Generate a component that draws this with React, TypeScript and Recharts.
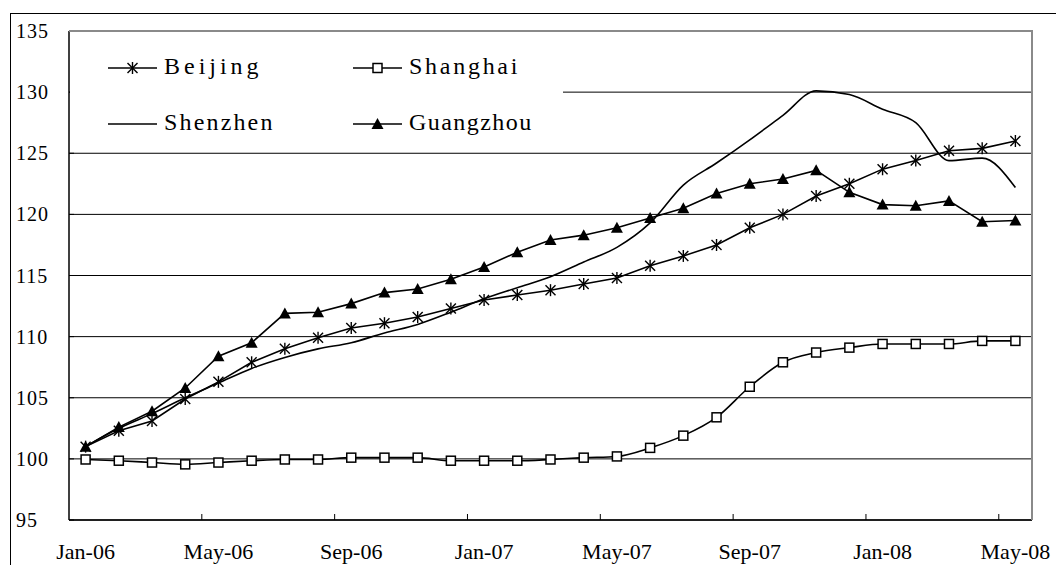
import React from "react";
import { LineChart, Line, XAxis, YAxis, CartesianGrid, Legend } from "recharts";

const months = [
  "Jan-06", "Feb-06", "Mar-06", "Apr-06", "May-06", "Jun-06", "Jul-06", "Aug-06", "Sep-06", "Oct-06", "Nov-06", "Dec-06",
  "Jan-07", "Feb-07", "Mar-07", "Apr-07", "May-07", "Jun-07", "Jul-07", "Aug-07", "Sep-07", "Oct-07", "Nov-07", "Dec-07",
  "Jan-08", "Feb-08", "Mar-08", "Apr-08", "May-08",
];

const beijing = [
  101.0, 102.3, 103.1, 104.9, 106.3, 107.9, 109.0, 109.9, 110.7, 111.1, 111.6, 112.3,
  113.0, 113.4, 113.8, 114.3, 114.8, 115.8, 116.6, 117.5, 118.9, 120.0, 121.5, 122.5,
  123.7, 124.4, 125.2, 125.4, 126.0,
];

const shanghai = [
  99.95, 99.85, 99.7, 99.55, 99.7, 99.85, 99.95, 99.95, 100.1, 100.1, 100.1, 99.85,
  99.85, 99.85, 99.95, 100.1, 100.2, 100.9, 101.9, 103.4, 105.9, 107.9, 108.7, 109.1,
  109.4, 109.4, 109.4, 109.65, 109.65,
];

const shenzhen = [
  101.0, 102.5, 103.7, 105.0, 106.2, 107.4, 108.3, 109.0, 109.5, 110.3, 111.0, 112.0,
  113.1, 114.0, 114.9, 116.1, 117.3, 119.3, 122.4, 124.2, 126.1, 128.1, 130.1, 129.8,
  128.6, 127.5, 124.4, 124.6, 122.2,
];

const guangzhou = [
  101.0, 102.6, 103.9, 105.8, 108.4, 109.5, 111.9, 112.0, 112.7, 113.6, 113.9, 114.7,
  115.7, 116.9, 117.9, 118.3, 118.9, 119.7, 120.5, 121.7, 122.5, 122.9, 123.6, 121.8,
  120.8, 120.7, 121.1, 119.4, 119.5,
];

const yTicks = [95, 100, 105, 110, 115, 120, 125, 130, 135];

const data = months.map((month, i) => ({
  month,
  Beijing: beijing[i],
  Shanghai: shanghai[i],
  Shenzhen: shenzhen[i],
  Guangzhou: guangzhou[i],
}));

const W = 1056;
const H = 565;
const PLOT_LEFT = 69;
const PLOT_TOP = 31;
const PLOT_RIGHT = 1032;
const PLOT_BOTTOM = 520;
const BAND = (PLOT_RIGHT - PLOT_LEFT) / months.length;
const INK = "#000";
const LINE_W = 1.6;
const SERIF = "'Liberation Serif', 'Times New Roman', serif";

type MarkerKind = "star" | "square" | "none" | "triangle";

function Marker({ kind, cx, cy }: { kind: MarkerKind; cx: number; cy: number }) {
  if (kind === "star") {
    return (
      <g stroke={INK} strokeWidth={1.4}>
        <line x1={cx} y1={cy - 6} x2={cx} y2={cy + 6} />
        <line x1={cx - 5} y1={cy - 5} x2={cx + 5} y2={cy + 5} />
        <line x1={cx - 5} y1={cy + 5} x2={cx + 5} y2={cy - 5} />
      </g>
    );
  }
  if (kind === "square") {
    return <rect x={cx - 4.5} y={cy - 4.5} width={9} height={9} fill="#fff" stroke={INK} strokeWidth={1.5} />;
  }
  if (kind === "triangle") {
    return <polygon points={`${cx},${cy - 6} ${cx - 6},${cy + 5} ${cx + 6},${cy + 5}`} fill={INK} />;
  }
  return null;
}

const series: { key: string; kind: MarkerKind; smooth: boolean }[] = [
  { key: "Beijing", kind: "star", smooth: false },
  { key: "Shanghai", kind: "square", smooth: true },
  { key: "Shenzhen", kind: "none", smooth: true },
  { key: "Guangzhou", kind: "triangle", smooth: false },
];

const dotFor = (kind: MarkerKind, name: string) => (props: any) => {
  const { cx, cy, index } = props;
  if (cx == null || cy == null) return <g key={`${name}-${index}`} />;
  return (
    <g key={`${name}-${index}`}>
      <Marker kind={kind} cx={cx} cy={cy} />
    </g>
  );
};

function XTick(props: any) {
  const { x, payload } = props;
  const first = payload.value === months[0];
  return (
    <g>
      {!first && (
        <line x1={x - BAND / 2} y1={PLOT_BOTTOM} x2={x - BAND / 2} y2={PLOT_BOTTOM - 6} stroke={INK} strokeWidth={1} />
      )}
      <text x={x} y={559} textAnchor="middle" fontFamily={SERIF} fontSize={22} fill={INK}>
        {payload.value}
      </text>
    </g>
  );
}

function YTick(props: any) {
  const { y, payload } = props;
  return (
    <g>
      <line x1={PLOT_LEFT} y1={y} x2={PLOT_LEFT + 5} y2={y} stroke={INK} strokeWidth={1} />
      <text x={16} y={y + 7} textAnchor="start" fontFamily={SERIF} fontSize={20} letterSpacing={1} fill={INK}>
        {payload.value}
      </text>
    </g>
  );
}

// legend grid: two columns, two rows
const legendCols = [38, 283];
const legendRows = [36, 92];
const CHAR_W = 13.8;

function LegendBox() {
  return (
    <svg width={493} height={113} style={{ display: "block" }}>
      {series.map((s, i) => {
        const lx = legendCols[i % 2];
        const ly = legendRows[Math.floor(i / 2)];
        return (
          <g key={s.key}>
            <line x1={lx} y1={ly} x2={lx + 49} y2={ly} stroke={INK} strokeWidth={LINE_W} />
            <Marker kind={s.kind} cx={lx + 24.5} cy={ly} />
            <text
              x={lx + 56}
              y={ly + 6}
              fontFamily={SERIF}
              fontSize={24}
              textLength={s.key.length * CHAR_W - 2}
              lengthAdjust="spacing"
              fill={INK}
            >
              {s.key}
            </text>
          </g>
        );
      })}
    </svg>
  );
}

export default function App() {
  return (
    <div
      style={{
        position: "absolute",
        left: 0,
        top: 0,
        width: W,
        height: H,
        overflow: "hidden",
        background: "#fff",
      }}
    >
      <div
        style={{
          position: "absolute",
          left: 10,
          top: 13,
          width: 1100,
          height: 600,
          border: "1.5px solid #000",
        }}
      />
      <div style={{ position: "absolute", left: 0, top: 0 }}>
        <LineChart
          width={W}
          height={H}
          data={data}
          margin={{ top: PLOT_TOP, right: W - PLOT_RIGHT, bottom: 0, left: 0 }}
        >
          <CartesianGrid vertical={false} stroke={INK} strokeWidth={1} />
          <XAxis
            dataKey="month"
            height={H - PLOT_BOTTOM}
            padding={{ left: BAND / 2, right: BAND / 2 }}
            interval={3}
            tickLine={false}
            axisLine={{ stroke: INK, strokeWidth: 1.5 }}
            tick={<XTick />}
          />
          <YAxis
            width={PLOT_LEFT}
            domain={[95, 135]}
            ticks={yTicks}
            interval={0}
            allowDataOverflow
            tickLine={false}
            axisLine={{ stroke: INK, strokeWidth: 1.5 }}
            tick={<YTick />}
          />
          <Legend
            layout="vertical"
            align="center"
            verticalAlign="middle"
            content={() => <LegendBox />}
            wrapperStyle={{
              position: "absolute",
              left: PLOT_LEFT + 1,
              top: PLOT_TOP + 1,
              width: 493,
              height: 113,
              background: "#fff",
            }}
          />
          {series.map((s) => (
            <Line
              key={s.key}
              dataKey={s.key}
              type={s.smooth ? "monotone" : "linear"}
              stroke={INK}
              strokeWidth={LINE_W}
              dot={dotFor(s.kind, s.key)}
              activeDot={false}
              isAnimationActive={false}
            />
          ))}
        </LineChart>
      </div>
      <div
        style={{
          position: "absolute",
          left: PLOT_LEFT,
          top: PLOT_TOP - 1,
          width: PLOT_RIGHT - PLOT_LEFT + 1,
          height: 2,
          background: "#8a8a8a",
        }}
      />
      <div
        style={{
          position: "absolute",
          left: PLOT_RIGHT - 1,
          top: PLOT_TOP - 1,
          width: 2,
          height: PLOT_BOTTOM - PLOT_TOP + 1,
          background: "#8a8a8a",
        }}
      />
    </div>
  );
}
